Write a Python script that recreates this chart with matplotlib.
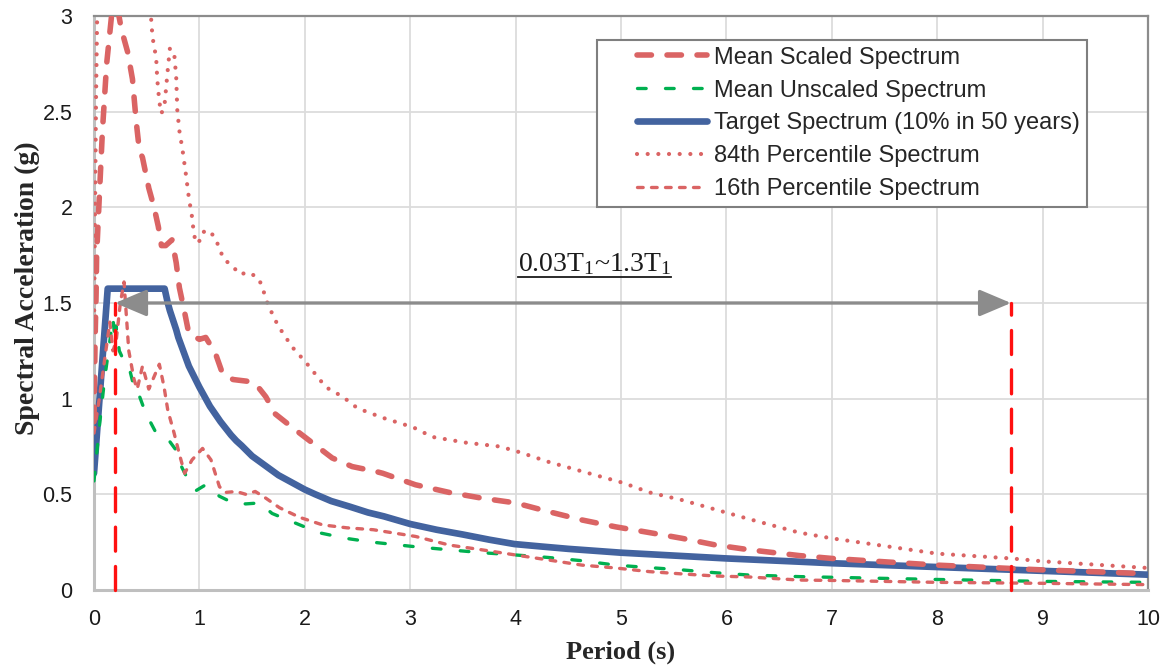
import matplotlib
matplotlib.use("Agg")
import matplotlib.pyplot as plt
from matplotlib.lines import Line2D
from matplotlib.legend_handler import HandlerLine2D

# ---------------- data ----------------
T_mean_scaled = [0.0, 0.01, 0.02, 0.025, 0.05, 0.08, 0.12, 0.17, 0.22, 0.26, 0.32, 0.365, 0.40, 0.43,
                 0.46, 0.49, 0.52, 0.57, 0.61, 0.64, 0.68, 0.74, 0.78, 0.81, 0.86, 0.90, 1.0, 1.06,
                 1.15, 1.22, 1.32, 1.47, 1.53, 1.63, 1.72, 1.88, 2.07, 2.26, 2.45, 2.67, 2.74, 3.05,
                 3.37, 3.68, 4.0, 4.31, 4.63, 4.95, 5.27, 5.58, 5.90, 6.22, 6.69, 7.0, 8.0, 9.0, 10.0]
Sa_mean_scaled = [0.88, 1.3, 1.55, 1.75, 2.05, 2.4, 2.75, 3.02, 3.05, 2.93, 2.81, 2.67, 2.45, 2.30,
                  2.26, 2.18, 2.10, 2.0, 1.90, 1.80, 1.80, 1.83, 1.71, 1.58, 1.45, 1.34, 1.31, 1.32,
                  1.24, 1.13, 1.10, 1.09, 1.08, 1.01, 0.92, 0.85, 0.77, 0.69, 0.645, 0.62, 0.61, 0.55,
                  0.51, 0.48, 0.455, 0.41, 0.366, 0.33, 0.30, 0.27, 0.235, 0.21, 0.18, 0.165, 0.13, 0.105, 0.085]

T_mean_unscaled = [0.0, 0.05, 0.10, 0.15, 0.18, 0.20, 0.21, 0.24, 0.29, 0.33, 0.38, 0.40, 0.49, 0.59,
                   0.72, 0.78, 0.83, 0.88, 0.97, 1.06, 1.19, 1.32, 1.44, 1.57, 1.69, 1.91, 2.13, 2.39,
                   2.64, 3.05, 3.37, 3.68, 4.0, 4.31, 4.63, 4.95, 5.27, 5.58, 5.90, 6.22, 6.69, 8.0, 9.0, 10.0]
Sa_mean_unscaled = [0.57, 0.85, 1.1, 1.3, 1.42, 1.3, 1.38, 1.25, 1.19, 1.17, 1.06, 1.06, 0.925, 0.82,
                    0.775, 0.73, 0.645, 0.59, 0.52, 0.55, 0.49, 0.455, 0.45, 0.455, 0.40, 0.35, 0.30, 0.27,
                    0.25, 0.226, 0.21, 0.195, 0.183, 0.17, 0.153, 0.13, 0.117, 0.105, 0.09, 0.078, 0.07, 0.055, 0.045, 0.04]

T_target = [0.0, 0.13, 0.67, 0.70, 0.72, 0.75, 0.78, 0.80, 0.85, 0.90, 0.95, 1.0, 1.05, 1.1, 1.15, 1.2,
            1.25, 1.3, 1.35, 1.4, 1.5, 1.6, 1.75, 1.9, 2.0, 2.1, 2.25, 2.43, 2.6, 2.75, 3.0, 3.25,
            3.5, 3.75, 3.99, 4.25, 4.5, 5.0, 5.5, 6.0, 6.69, 7.0, 7.5, 8.0, 8.5, 9.0, 9.5, 10.0]
Sa_target = [0.61, 1.575, 1.575, 1.50, 1.46, 1.41, 1.36, 1.32, 1.245, 1.17, 1.115, 1.06, 1.01, 0.96, 0.92, 0.88,
             0.845, 0.81, 0.78, 0.755, 0.70, 0.66, 0.60, 0.555, 0.525, 0.50, 0.465, 0.435, 0.405, 0.385, 0.345, 0.315,
             0.29, 0.263, 0.24, 0.227, 0.215, 0.195, 0.18, 0.165, 0.148, 0.14, 0.13, 0.12, 0.11, 0.10, 0.09, 0.08]

T_p84 = [0.0, 0.01, 0.02, 0.03, 0.05, 0.3, 0.54, 0.555, 0.59, 0.60, 0.62, 0.64, 0.67, 0.70, 0.72, 0.76,
         0.78, 0.79, 0.81, 0.84, 0.87, 0.90, 0.93, 0.95, 0.99, 1.03, 1.09, 1.15, 1.23, 1.32, 1.38, 1.47,
         1.56, 1.60, 1.63, 1.67, 1.71, 1.76, 1.88, 2.01, 2.20, 2.36, 2.50, 2.74, 3.03, 3.21, 3.53, 3.85,
         4.04, 4.31, 4.63, 5.02, 5.27, 5.58, 5.90, 6.22, 6.69, 7.0, 8.0, 8.7, 9.0, 10.0]
Sa_p84 = [1.35, 2.0, 2.6, 3.0, 3.2, 3.5, 3.0, 2.89, 2.78, 2.67, 2.55, 2.49, 2.54, 2.72, 2.83, 2.81,
          2.68, 2.51, 2.40, 2.30, 2.18, 2.05, 1.95, 1.85, 1.81, 1.87, 1.88, 1.84, 1.73, 1.69, 1.65, 1.66,
          1.63, 1.58, 1.52, 1.47, 1.42, 1.37, 1.27, 1.19, 1.06, 1.01, 0.95, 0.90, 0.85, 0.80, 0.77, 0.75,
          0.72, 0.67, 0.62, 0.56, 0.51, 0.47, 0.42, 0.37, 0.30, 0.27, 0.19, 0.165, 0.15, 0.115]

T_p16 = [0.0, 0.05, 0.10, 0.15, 0.18, 0.21, 0.25, 0.285, 0.33, 0.38, 0.41, 0.46, 0.52, 0.62, 0.665,
         0.70, 0.76, 0.81, 0.86, 0.93, 1.03, 1.11, 1.19, 1.25, 1.35, 1.44, 1.53, 1.63, 1.76, 1.95, 2.17,
         2.40, 2.65, 3.05, 3.37, 3.68, 4.0, 4.31, 4.63, 4.95, 5.27, 5.58, 5.90, 6.22, 6.69, 7.0, 8.0, 9.0, 10.0]
Sa_p16 = [0.82, 1.0, 1.2, 1.4, 1.25, 1.3, 1.5, 1.61, 1.25, 1.10, 1.05, 1.17, 1.05, 1.18, 1.06,
          0.94, 0.82, 0.71, 0.61, 0.68, 0.74, 0.68, 0.54, 0.51, 0.515, 0.50, 0.515, 0.48, 0.43, 0.38, 0.34,
          0.325, 0.315, 0.28, 0.235, 0.21, 0.183, 0.157, 0.13, 0.115, 0.096, 0.084, 0.073, 0.068, 0.052,
          0.05, 0.04, 0.035, 0.028]

period_bounds = [0.2, 8.7]      # 0.03T1 and 1.3T1
bound_level = 1.5
x_ticks = list(range(0, 11))
y_ticks = [0, 0.5, 1, 1.5, 2, 2.5, 3]
y_tick_labels = ["0", "0.5", "1", "1.5", "2", "2.5", "3"]

# ---------------- styling ----------------
RED = "#DA6464"
GREEN = "#00B050"
BLUE = "#43639F"
SANS = ["Liberation Sans", "DejaVu Sans"]
SERIF = ["Liberation Serif", "DejaVu Serif"]
plt.rcParams["mathtext.fontset"] = "custom"
plt.rcParams["mathtext.rm"] = "Liberation Serif"
plt.rcParams["mathtext.it"] = "Liberation Serif:italic"


class OffsetLineHandler(HandlerLine2D):
    """Draw the legend sample only on the right part of the handle box."""
    def __init__(self, frac=0.36, **kw):
        super().__init__(**kw)
        self.frac = frac

    def get_xdata(self, legend, xdescent, ydescent, width, height, fontsize):
        xs = [-xdescent + self.frac * width, -xdescent + width]
        return xs, xs


fig = plt.figure(figsize=(11.66, 6.69), dpi=100)
ax = fig.add_axes([94 / 1166, (669 - 590) / 669, 1054 / 1166, 574 / 669])

l1, = ax.plot(T_mean_scaled, Sa_mean_scaled, color=RED, lw=4.0, dashes=(2.6, 2.8),
              dash_capstyle="round", label="Mean Scaled Spectrum", zorder=4)
l2, = ax.plot(T_mean_unscaled, Sa_mean_unscaled, color=GREEN, lw=2.4, dashes=(2.6, 5.8),
              dash_capstyle="round", label="Mean Unscaled Spectrum", zorder=4)
l3, = ax.plot(T_target, Sa_target, color=BLUE, lw=4.8, solid_capstyle="round", solid_joinstyle="round",
              label="Target Spectrum (10% in 50 years)", zorder=3)
l4, = ax.plot(T_p84, Sa_p84, color=RED, lw=3.0, dashes=(0.01, 2.55), dash_capstyle="round",
              label="84th Percentile Spectrum", zorder=4)
l5, = ax.plot(T_p16, Sa_p16, color=RED, lw=2.4, dashes=(1.7, 2.5), dash_capstyle="round",
              label="16th Percentile Spectrum", zorder=4)

# vertical bounds
for tb in period_bounds:
    ax.plot([tb, tb], [0, bound_level], color="#FF1010", lw=2.4, dashes=(7.2, 4.6),
            dash_capstyle="round", zorder=5, clip_on=False)

# double arrow
ax.annotate("", xy=(period_bounds[1], bound_level), xytext=(period_bounds[0], bound_level),
            arrowprops=dict(arrowstyle="<|-|>,head_length=1.3,head_width=0.55", color="#8C8C8C",
                            lw=2.4, mutation_scale=15, shrinkA=0, shrinkB=0), zorder=6)

txt = ax.text(4.75, 1.665, r"0.03T$_1$~1.3T$_1$", ha="center", va="baseline", fontsize=20,
              family=SERIF, color="#1A1A1A", zorder=7)

ax.set_xlim(0, 10)
ax.set_ylim(0, 3)
ax.set_xticks(x_ticks)
ax.set_xticklabels([str(v) for v in x_ticks])
ax.set_yticks(y_ticks)
ax.set_yticklabels(y_tick_labels)
ax.tick_params(axis="both", length=0, labelsize=15.5, colors="#1A1A1A")
ax.tick_params(axis="x", pad=14)
ax.tick_params(axis="y", pad=15.5)
for lab in ax.get_xticklabels() + ax.get_yticklabels():
    lab.set_family(SANS)

ax.grid(True, color="#DCDCDC", lw=1.3, zorder=0)
ax.set_axisbelow(True)
for side in ["left", "bottom"]:
    ax.spines[side].set_color("#BFBFBF")
    ax.spines[side].set_linewidth(2.2)
for side in ["top", "right"]:
    ax.spines[side].set_color("#8C8C8C")
    ax.spines[side].set_linewidth(1.6)

ax.set_xlabel("Period (s)", fontsize=19, fontweight="bold", family=SERIF, color="#262626", labelpad=7)
ax.set_ylabel("Spectral Acceleration (g)", fontsize=20, fontweight="bold", family=SERIF,
              color="#262626")
ax.yaxis.set_label_coords(-0.051, 0.526)

handles = [l1, l2, l3, l4, l5]
leg = ax.legend(handles=handles, loc="upper left", bbox_to_anchor=(0.477, 0.958), borderaxespad=0,
                prop={"family": SANS, "size": 17}, handlelength=4.4, handletextpad=0.3,
                labelspacing=0.46, frameon=True, fancybox=False, framealpha=1,
                borderpad=0.28, handler_map={Line2D: OffsetLineHandler(frac=0.32)})
leg.get_frame().set_edgecolor("#7F7F7F")
leg.get_frame().set_linewidth(1.5)
for t in leg.get_texts():
    t.set_color("#262626")
leg.set_zorder(10)

# underline the annotation text
fig.canvas.draw()
bb = txt.get_window_extent(renderer=fig.canvas.get_renderer())
inv = fig.transFigure.inverted()
(x0, y0), (x1, y1) = inv.transform([(bb.x0, bb.y0), (bb.x1, bb.y1)])
fig.add_artist(Line2D([x0, x1], [y0, y0], transform=fig.transFigure, color="#1A1A1A", lw=1.3))

fig.savefig("out.png", dpi=100)
